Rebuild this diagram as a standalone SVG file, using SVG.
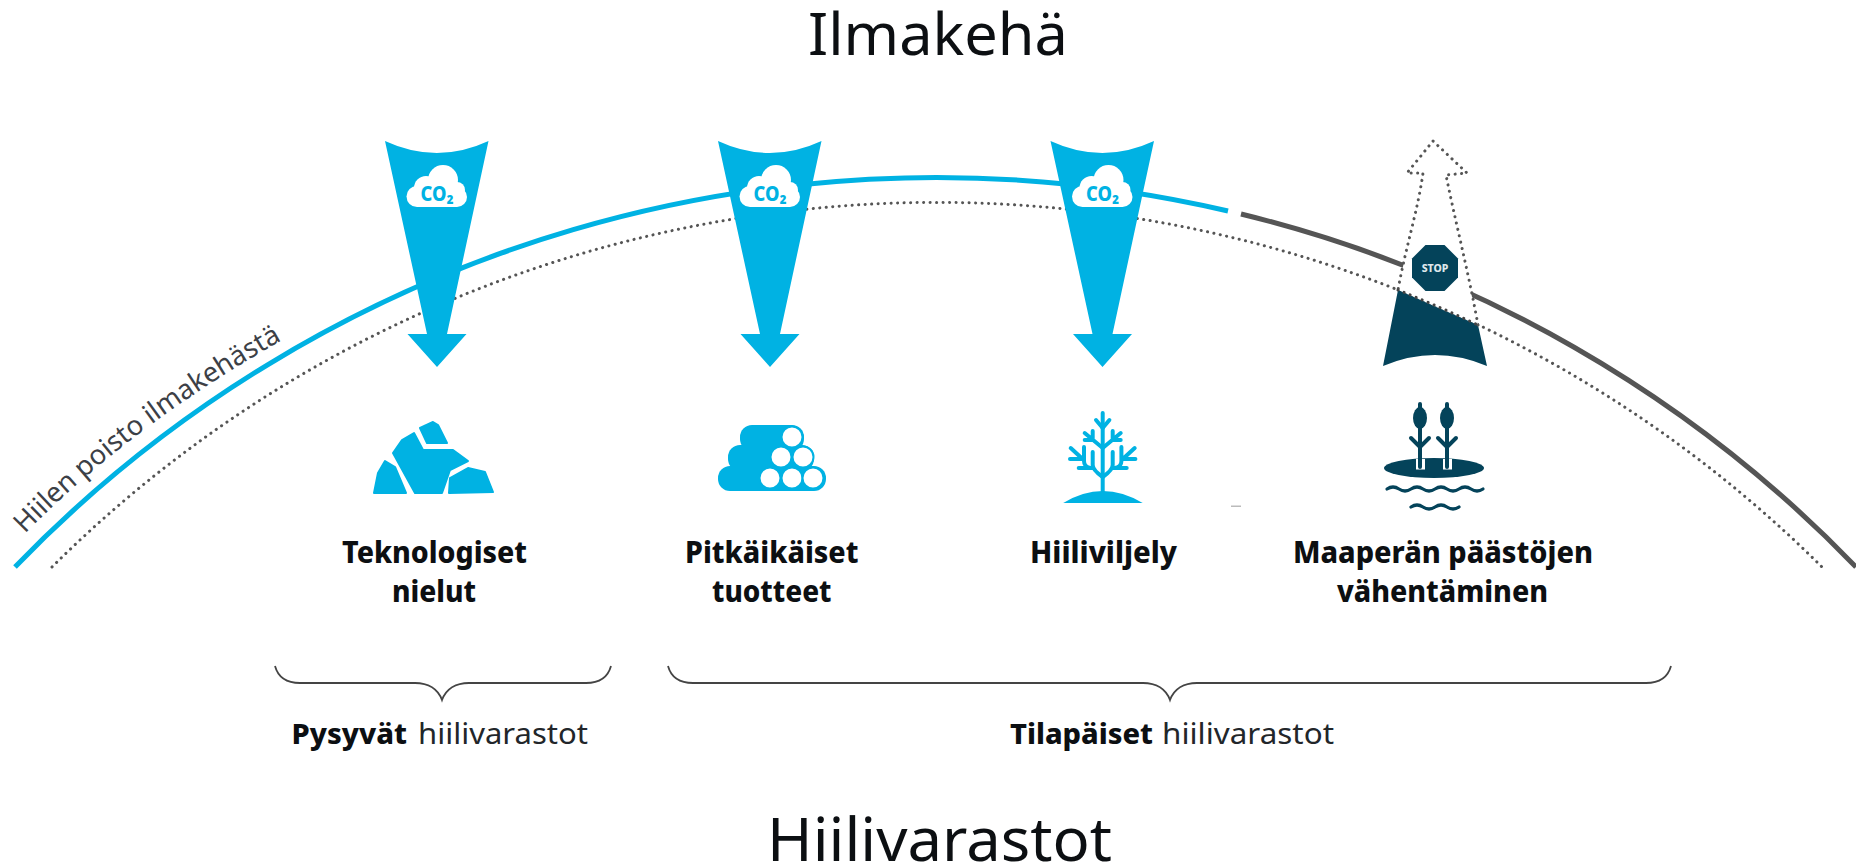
<svg xmlns="http://www.w3.org/2000/svg" xmlns:xlink="http://www.w3.org/1999/xlink" width="1856" height="866" viewBox="0 0 1856 866">
<style>
text{font-family:"Noto Sans","Liberation Sans",sans-serif;fill:#0c0f12}
.title{font-size:58px;font-weight:400}
.lab{font-size:31px;font-weight:800}
.sub{font-size:28px;font-weight:800}
.subr{font-size:29px;font-weight:400;fill:#22262a}
.curve{font-size:27.300px;fill:#3c4046}
.co{font-size:21px;font-weight:800;fill:#00b2e3;text-anchor:middle}
.stop{font-size:10.500px;font-weight:800;fill:#dfe8ec;text-anchor:middle}
.blue{fill:#00b2e3}
.dark{fill:#04435a}
.bl{fill:none;stroke:#00b2e3;stroke-width:5}
.gr{fill:none;stroke:#555;stroke-width:5}
.dot{fill:none;stroke:#555;stroke-width:3;stroke-dasharray:.1 6.400;stroke-linecap:round}
.brace{fill:none;stroke:#444;stroke-width:1.800}
.tw{fill:none;stroke:#00b2e3;stroke-width:4;stroke-linecap:round;stroke-linejoin:round}
.dk{fill:none;stroke:#04435a;stroke-width:4;stroke-linecap:round;stroke-linejoin:round}
.rock{fill:#00b2e3;stroke:#00b2e3;stroke-width:2;stroke-linejoin:round}
</style>
<defs>
<path id="down" class="blue" d="M-52,141 Q0,165 51.500,141 L10,334 H29.500 L0,367 L-29.500,334 H-10 Z"/>
<g id="cloud">
<g fill="#fff"><circle cx="-20" cy="196.500" r="10.500"/><circle cx="20" cy="197" r="10"/><circle cx="-11" cy="188" r="12"/><circle cx="6" cy="180" r="15"/><circle cx="20" cy="190" r="8"/><rect x="-20" y="187" width="40" height="20"/></g>
<text class="co" x="0" y="200.500" textLength="33" lengthAdjust="spacingAndGlyphs">CO₂</text>
</g>
<path id="txtcurve" d="M25,534 C92,465 182,395 295,333"/>
<g id="reed">
<ellipse cx="0" cy="418" rx="7" ry="11" class="dark"/>
<path class="dk" d="M-9,438 L0,447 L9,438"/>
</g>
<g id="twigs">
<path class="tw" d="M-6.700,420 L0,428 M0,448 L-18,433 M-10,431 V440 M-18,440 H-10 M-10,452 V465 Q-10,470 0,477 M-24,468 H-10 M-18.700,447 V461 Q-18.700,467 -12,468 M-32,448 L-19,460 M-32.700,459 H-19"/>
</g>
</defs>
<rect width="1856" height="866" fill="#fff"/>

<g id="connectors">
<path class="bl" d="M15,567 A1270,1250 0 0 1 1228,211"/>
<path class="gr" d="M1241,214 A1270,1250 0 0 1 1856,567"/>
<path class="dot" d="M52,567 A1250,1241 0 0 1 1822,567"/>
<path class="brace" d="M275,666 C278,677 286,683 300,683 H415 C428,683 438,689 442,700 C446,689 456,683 469,683 H586 C600,683 608,677 611,666"/>
<path class="brace" d="M668,666 C671,677 679,683 693,683 H1143 C1156,683 1166,689 1170,700 C1174,689 1184,683 1197,683 H1646 C1660,683 1668,677 1671,666"/>
</g>

<g id="title-top"><text class="title" x="808" y="55" textLength="260" lengthAdjust="spacingAndGlyphs">Ilmakehä</text></g>
<g id="title-bottom"><text class="title" x="767" y="861" textLength="345" lengthAdjust="spacingAndGlyphs" style="font-size:60px">Hiilivarastot</text></g>
<g id="curve-label"><text class="curve"><textPath xlink:href="#txtcurve" href="#txtcurve">Hiilen poisto ilmakehästä</textPath></text></g>

<g id="node-teknologiset">
<g transform="translate(437,0)"><use href="#down"/><use href="#cloud"/></g>
<path class="rock" d="M420,428 L433,422 L438,425 L447,443 L427,443 Z"/>
<path class="rock" d="M393,453 L402,440 L414,433 L423,450 L453,450 L468,461 L450,470 L442,493 L415,493 Z"/>
<path class="rock" d="M385,461 L395,467 L406,493 L374,493 L378,473 Z"/>
<path class="rock" d="M450,478 L468,468 L485,472 L493,492 L449,493 Z"/>
<text class="lab" x="342" y="563" textLength="185" lengthAdjust="spacingAndGlyphs">Teknologiset</text>
<text class="lab" x="392" y="602" textLength="84" lengthAdjust="spacingAndGlyphs">nielut</text>
</g>

<g id="node-pitkaikaiset">
<g transform="translate(770,0)"><use href="#down"/><use href="#cloud"/></g>
<g class="blue">
<rect x="740" y="425" width="64" height="26" rx="12"/>
<rect x="728" y="445" width="86" height="26" rx="12"/>
<rect x="718" y="466" width="108" height="25" rx="12"/>
</g>
<g fill="#fff" stroke="#00b2e3" stroke-width="2">
<circle cx="792" cy="437" r="10.500"/><circle cx="781" cy="457" r="10.500"/><circle cx="803" cy="457" r="10.500"/>
<circle cx="770" cy="478" r="10.500"/><circle cx="792" cy="478" r="10.500"/><circle cx="813" cy="478" r="10.500"/>
</g>
<text class="lab" x="685" y="563" textLength="173.500" lengthAdjust="spacingAndGlyphs">Pitkäikäiset</text>
<text class="lab" x="712" y="602" textLength="119.500" lengthAdjust="spacingAndGlyphs">tuotteet</text>
</g>

<g id="node-hiiliviljely">
<g transform="translate(1102.500,0)"><use href="#down"/><use href="#cloud"/></g>
<g transform="translate(1102.700,0)">
<path class="blue" d="M-39.500,503 Q0,479 40,503 Z"/>
<path class="tw" d="M0,413 V492"/>
<use href="#twigs"/>
<use href="#twigs" transform="scale(-1,1)"/>
</g>
<rect x="1231" y="505.500" width="10" height="1.500" fill="#bbb"/>
<text class="lab" x="1030" y="563" textLength="147" lengthAdjust="spacingAndGlyphs">Hiiliviljely</text>
</g>

<g id="node-maaperan">
<path d="M1398,290 L1423,173 H1407 L1433,141 L1467,173 L1446,175 L1478,325 Z" fill="#fff"/>
<path class="dark" d="M1398,290 Q1438,308 1478,325 L1487,366 Q1435,344 1383,366 Z"/>
<path class="dot" d="M1478,325 C1468,270 1455,220 1446,175 L1467,173 L1433,141 L1407,173 H1423 C1418,210 1405,250 1398,290"/>
<path class="dot" style="stroke:#444" d="M1398,290 A1250,1241 0 0 1 1478,325"/>
<path class="dark" d="M1425.500,245 H1444.500 L1458,258.500 V277.500 L1444.500,291 H1425.500 L1412,277.500 V258.500 Z"/>
<text class="stop" x="1435" y="272">STOP</text>
<ellipse class="dark" cx="1434" cy="468" rx="50" ry="10"/>
<rect x="1416" y="459" width="9" height="10.500" fill="#fff"/>
<rect x="1443" y="459" width="9" height="10.500" fill="#fff"/>
<path class="dk" d="M1420,404 V467 M1447,404 V467"/>
<path class="dk" style="stroke-width:3.200" d="M1387,489 q6,-4 12,0 t12,0 t12,0 t12,0 t12,0 t12,0 t12,0 t12,0"/>
<path class="dk" style="stroke-width:3.200" d="M1411,507 q6,-4 12,0 t12,0 t12,0 t12,0"/>
<use href="#reed" transform="translate(1447,0)"/>
<use href="#reed" transform="translate(1420,0)"/>
<text class="lab" x="1293" y="563" textLength="300" lengthAdjust="spacingAndGlyphs">Maaperän päästöjen</text>
<text class="lab" x="1337" y="602" textLength="211" lengthAdjust="spacingAndGlyphs">vähentäminen</text>
</g>

<g id="group-pysyvat"><text class="sub" x="291.500" y="744" textLength="115.500" lengthAdjust="spacingAndGlyphs">Pysyvät</text><text class="subr" x="418" y="744" textLength="170" lengthAdjust="spacingAndGlyphs">hiilivarastot</text></g>
<g id="group-tilapaiset"><text class="sub" x="1010" y="744" textLength="143" lengthAdjust="spacingAndGlyphs">Tilapäiset</text><text class="subr" x="1162" y="744" textLength="172" lengthAdjust="spacingAndGlyphs">hiilivarastot</text></g>
</svg>
